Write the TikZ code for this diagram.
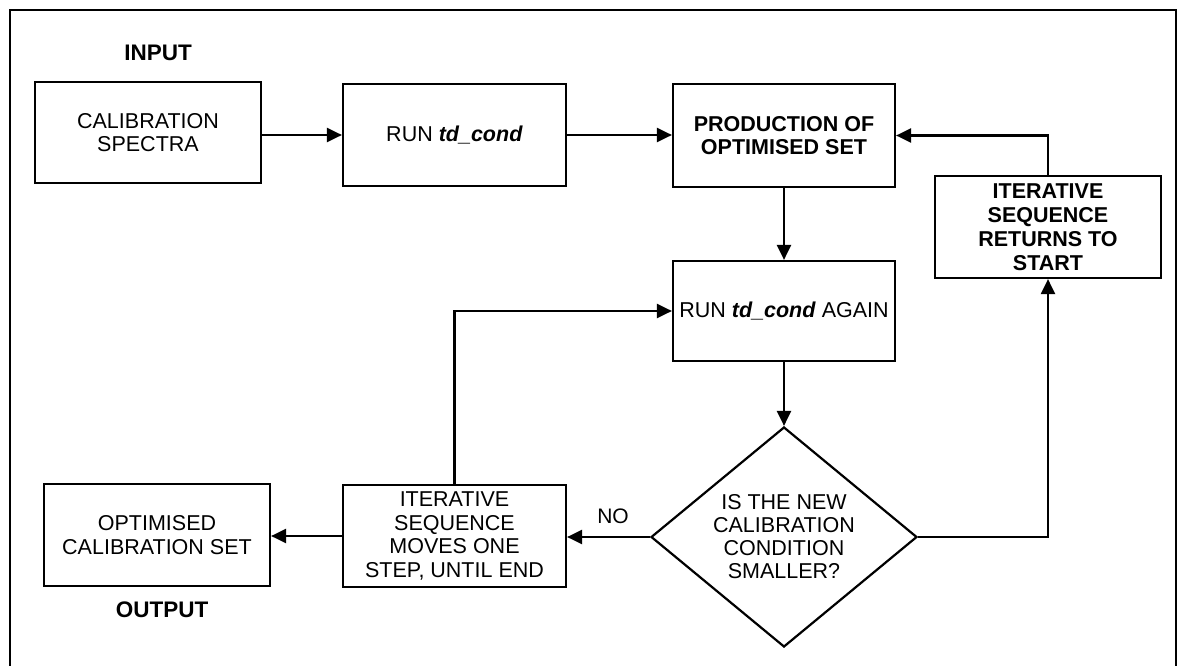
\documentclass[tikz,border=0pt]{standalone}
\usepackage{fontspec}
\setmainfont{Liberation Sans}
\usetikzlibrary{arrows.meta,shapes.geometric}

\tikzset{
  procbox/.style={draw, line width=2.2pt, inner sep=0pt, align=center,
    font=\fontsize{21.5}{23.5}\selectfont},
  decision/.style={draw, diamond, line width=2.2pt, inner sep=0pt, align=center,
    aspect=1.21, minimum width=266pt, minimum height=220pt,
    font=\fontsize{21.5}{23}\selectfont},
  tag/.style={font=\fontsize{22.5}{24}\selectfont\bfseries},
  plain/.style={font=\fontsize{21}{24}\selectfont},
  flow/.style={line width=2.2pt, -{Triangle[length=15pt,width=14pt]}},
}

\begin{document}
\begin{tikzpicture}[x=1pt, y=-1pt]
  \useasboundingbox (0,0) rectangle (1178,666);

  % outer frame
  \draw[line width=2.2pt] (10,680) -- (10,10) -- (1176,10) -- (1176,680);

  % process boxes
  \node[procbox, minimum width=226pt, minimum height=101pt] (calib) at (148,132.5)
    {CALIBRATION\\SPECTRA};
  \node[procbox, minimum width=223pt, minimum height=102pt] (run) at (454.5,135)
    {RUN \textbf{\textit{td\_cond}}};
  \node[procbox, minimum width=222pt, minimum height=103pt, font=\fontsize{21.5}{23.5}\selectfont\bfseries]
    (prod) at (784,135.5) {PRODUCTION OF\\OPTIMISED SET};
  \node[procbox, minimum width=222pt, minimum height=100pt] (again) at (784,311)
    {RUN \textbf{\textit{td\_cond}} AGAIN};
  \node[procbox, minimum width=226pt, minimum height=102pt, font=\fontsize{21.5}{24}\selectfont\bfseries]
    (ret) at (1048,227) {ITERATIVE\\SEQUENCE\\RETURNS TO\\START};
  \node[decision] (dia) at (784,537)
    {IS THE NEW\\CALIBRATION\\CONDITION\\SMALLER?};
  \node[procbox, minimum width=223pt, minimum height=102pt] (moves) at (454.5,536)
    {ITERATIVE\\SEQUENCE\\MOVES ONE\\STEP, UNTIL END};
  \node[procbox, minimum width=226pt, minimum height=102pt] (opt) at (157,535)
    {OPTIMISED\\CALIBRATION SET};

  % labels
  \node[tag] (inlab) at (158,53) {INPUT};
  \node[tag] (outlab) at (162,610) {OUTPUT};
  \node[plain] (nolab) at (613,516) {NO};

  % connectors
  \draw[flow] (calib.east |- run.west) -- (run.west);
  \draw[flow] (run.east) -- (prod.west |- run.east);
  \draw[flow] (prod.south) -- (again.north);
  \draw[flow] (again.south) -- (dia.north);
  \draw[flow] (dia.west) -- (moves.east |- dia.west);
  \draw[flow] (moves.west) -- (opt.east |- moves.west);
  \draw[flow] (moves.north) |- (again.west);
  \draw[flow] (dia.east) -| (ret.south);
  \draw[flow] (ret.north) |- (prod.east);
\end{tikzpicture}
\end{document}
